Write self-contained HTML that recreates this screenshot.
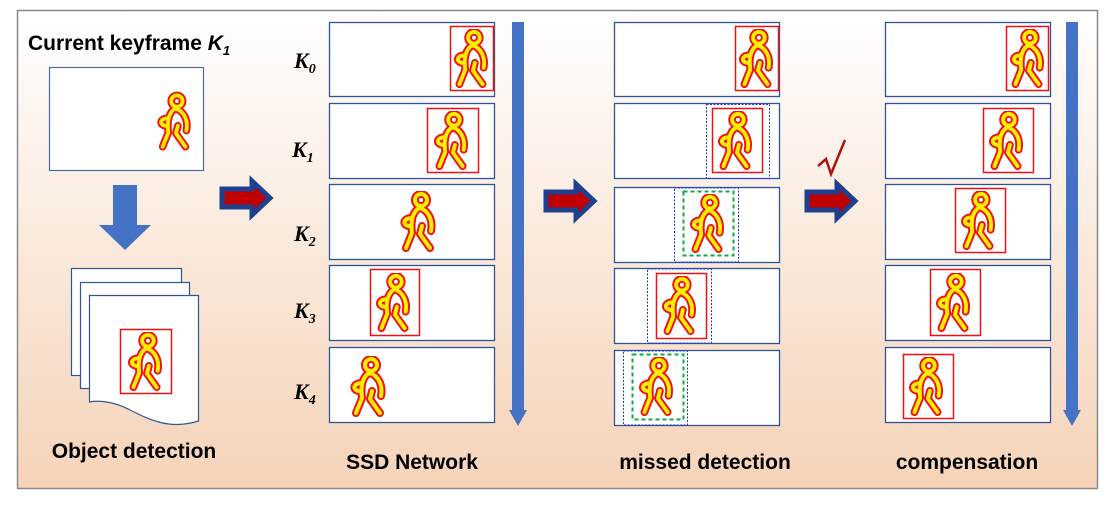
<!DOCTYPE html>
<html><head><style>
html,body{margin:0;padding:0;background:#fff}
svg{display:block}
.t{font-family:"Liberation Sans",sans-serif}
.k{font-family:"Liberation Serif",serif;font-size:22px;font-weight:bold;font-style:italic}
</style></head><body>
<svg width="1114" height="508" viewBox="0 0 1114 508" xmlns="http://www.w3.org/2000/svg">
<defs>
<linearGradient id="bg" x1="0" y1="0" x2="0" y2="1">
<stop offset="0" stop-color="#ffffff"/><stop offset="1" stop-color="#f5d3b8"/>
</linearGradient>
<symbol id="p" viewBox="0 0 40 62">
<g fill="none" stroke-linecap="round" stroke-linejoin="round">
<g stroke="#ee1111" stroke-width="8">
<circle cx="22" cy="9" r="6"/>
<path d="M20 17 C12 22 12 34 13 42 L7 57 M21 17 C30 20 34 30 32 40 M13 27 C4 27 3 34 10 35 M23 35 L21 43 L31 57"/>
</g>
<g stroke="#ffee00" stroke-width="4">
<circle cx="22" cy="9" r="6"/>
<path d="M20 17 C12 22 12 34 13 42 L7 57 M21 17 C30 20 34 30 32 40 M13 27 C4 27 3 34 10 35 M23 35 L21 43 L31 57"/>
</g>
</g>
</symbol>
<g id="rarrow">
<path d="M0 8 H30 V0 L48 17 L30 34 V26 H0 Z" fill="#c00000" stroke="#1f3f8f" stroke-width="5" stroke-linejoin="miter"/>
</g>
</defs>
<rect x="17.5" y="10.5" width="1080" height="478" fill="url(#bg)" stroke="#8a8a8a" stroke-width="1.5"/>

<text class="t" x="28" y="50" font-size="21" font-weight="bold">Current keyframe <tspan font-style="italic">K</tspan><tspan font-size="13" dy="5" font-style="italic">1</tspan></text>
<rect x="49.5" y="67.5" width="154" height="103" fill="#fff" stroke="#4a6aa8" stroke-width="1.2"/>
<use href="#p" x="156" y="91" width="38" height="62"/>
<path d="M113 185 H137 V225 H151 L125 250 L99 225 H113 Z" fill="#4472c4"/>
<rect x="71.5" y="268.5" width="110" height="107" fill="#fff" stroke="#2f5597" stroke-width="1.2"/>
<rect x="80.5" y="282.5" width="109" height="106" fill="#fff" stroke="#2f5597" stroke-width="1.2"/>
<path d="M89.5 295.5 H198.5 V421 C170 430 150 420 130 410 C115 402 100 400 89.5 402 Z" fill="#fff" stroke="#2f5597" stroke-width="1.2"/>
<rect x="120.5" y="329.5" width="51" height="64" fill="none" stroke="#ee1111" stroke-width="1.5"/>
<use href="#p" x="126" y="332" width="40" height="60"/>
<text class="t" x="134" y="458" font-size="21" font-weight="bold" text-anchor="middle">Object detection</text>

<use href="#rarrow" x="222" y="181"/>
<use href="#rarrow" x="546" y="184"/>
<use href="#rarrow" x="807" y="184"/>
<path d="M818 166 L826 159 L831 174 L845 140" fill="none" stroke="#b01010" stroke-width="2.5"/>

<text class="k" x="294" y="68">K<tspan font-size="14" dy="5">0</tspan></text>
<text class="k" x="292" y="157">K<tspan font-size="14" dy="5">1</tspan></text>
<text class="k" x="294" y="241">K<tspan font-size="14" dy="5">2</tspan></text>
<text class="k" x="294" y="318">K<tspan font-size="14" dy="5">3</tspan></text>
<text class="k" x="294" y="399">K<tspan font-size="14" dy="5">4</tspan></text>

<g fill="#fff" stroke="#2f5597" stroke-width="1.3">
<rect x="329.5" y="22.5" width="165" height="74"/><rect x="329.5" y="103.5" width="165" height="75"/><rect x="329.5" y="184.5" width="165" height="75"/><rect x="329.5" y="265.5" width="165" height="75"/><rect x="329.5" y="347.5" width="165" height="75"/>
<rect x="614.5" y="22.5" width="165" height="74"/><rect x="614.5" y="103.5" width="165" height="75"/><rect x="614.5" y="187.5" width="165" height="75"/><rect x="614.5" y="268.5" width="165" height="75"/><rect x="614.5" y="350.5" width="165" height="75"/>
<rect x="885.5" y="22.5" width="165" height="74"/><rect x="885.5" y="103.5" width="165" height="75"/><rect x="885.5" y="184.5" width="165" height="75"/><rect x="885.5" y="265.5" width="165" height="75"/><rect x="885.5" y="347.5" width="165" height="75"/>
</g>

<path d="M512 22 H524 V410 H527 L518 426 L509 410 H512 Z" fill="#4472c4"/>
<path d="M1066 22 H1078 V410 H1081 L1072 426 L1063 410 H1066 Z" fill="#4472c4"/>

<g fill="none" stroke="#ee1111" stroke-width="1.5">
<rect x="450.5" y="26.5" width="43" height="64"/><rect x="427.5" y="108.5" width="51" height="64"/><rect x="370.5" y="269.5" width="49" height="66"/>
<rect x="735.5" y="26.5" width="43" height="64"/><rect x="712.5" y="108.5" width="50" height="64"/><rect x="656.5" y="273.5" width="50" height="65"/>
<rect x="1006.5" y="26.5" width="42" height="64"/><rect x="983.5" y="108.5" width="50" height="64"/><rect x="955.5" y="188.5" width="50" height="64"/><rect x="930.5" y="269.5" width="50" height="66"/><rect x="903.5" y="354.5" width="50" height="64"/>
</g>
<g fill="none" stroke="#2233ee" stroke-width="1" stroke-dasharray="2,1.5">
<rect x="706.5" y="104.5" width="63" height="74"/><rect x="674.5" y="188" width="64" height="74"/><rect x="647.5" y="269" width="64" height="74"/><rect x="623.5" y="351" width="64" height="74"/>
</g>
<g fill="none" stroke="#11aa44" stroke-width="2" stroke-dasharray="4,3">
<rect x="683.5" y="191.5" width="50" height="64"/><rect x="632.5" y="354.5" width="51" height="65"/>
</g>

<g>
<use href="#p" x="452" y="29" width="40" height="60"/>
<use href="#p" x="432" y="111" width="40" height="60"/>
<use href="#p" x="398" y="191" width="42" height="62"/>
<use href="#p" x="374" y="273" width="40" height="60"/>
<use href="#p" x="348" y="356" width="42" height="62"/>
<use href="#p" x="737" y="29" width="40" height="60"/>
<use href="#p" x="716" y="111" width="40" height="60"/>
<use href="#p" x="688" y="194" width="40" height="60"/>
<use href="#p" x="660" y="276" width="40" height="60"/>
<use href="#p" x="637" y="357" width="40" height="60"/>
<use href="#p" x="1008" y="29" width="40" height="60"/>
<use href="#p" x="987" y="111" width="40" height="60"/>
<use href="#p" x="959" y="191" width="40" height="60"/>
<use href="#p" x="934" y="273" width="40" height="60"/>
<use href="#p" x="907" y="357" width="40" height="60"/>
</g>

<g class="t" font-size="21" font-weight="bold" text-anchor="middle">
<text x="412" y="469">SSD Network</text>
<text x="705" y="469">missed detection</text>
<text x="967" y="469">compensation</text>
</g>
</svg>
</body></html>
